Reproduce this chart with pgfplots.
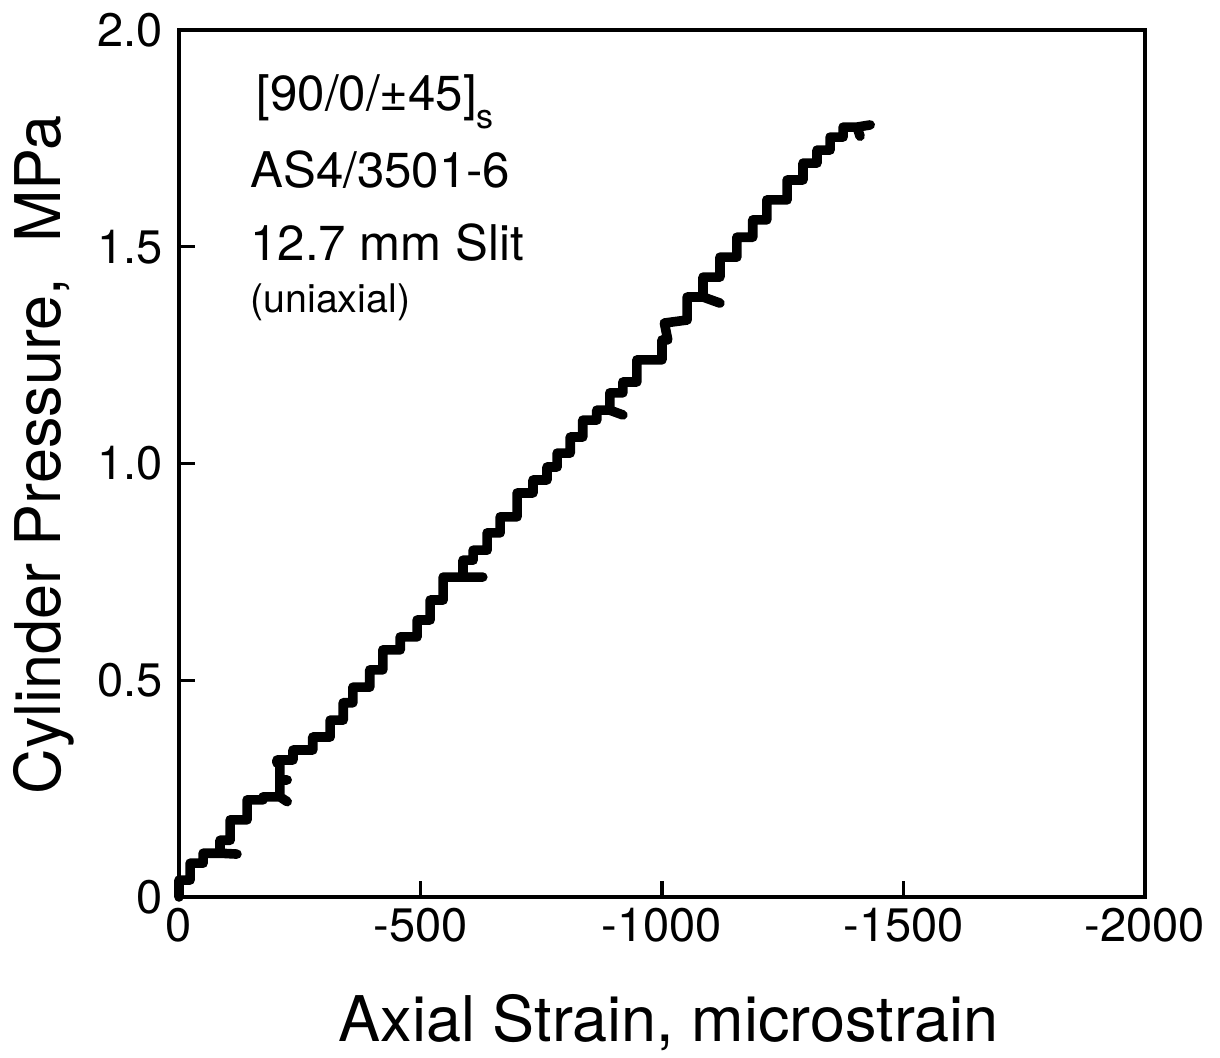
\documentclass[border=0pt]{standalone}
\usepackage{fontspec}
\setmainfont{TeX Gyre Heros}
\usepackage{pgfplots}
\pgfplotsset{compat=1.18}
\begin{document}
\begin{tikzpicture}
\begin{axis}[
  scale only axis,
  width=483pt, height=433.5pt,
  xmin=-2000, xmax=0, x dir=reverse,
  ymin=0, ymax=2,
  axis line style={line width=2pt},
  every tick/.style={line width=1.6pt, black},
  tick align=inside,
  major tick length=8pt,
  xtick pos=left, ytick pos=left,
  xtick={0,-500,-1000,-1500,-2000},
  xticklabels={0,-500,-1000,-1500,-2000},
  ytick={0,0.5,1,1.5,2},
  yticklabels={0,0.5,1.0,1.5,2.0},
  tick label style={font=\fontsize{23.5}{28}\selectfont},
  x tick label style={yshift=-2pt},
  y tick label style={xshift=-4.5pt},
  xlabel={Axial Strain, microstrain},
  ylabel={Cylinder Pressure,\ \ MPa},
  label style={font=\fontsize{31.5}{36}\selectfont},
  x label style={at={(axis description cs:0.507,-0.167)}, anchor=base},
  y label style={at={(axis description cs:-0.123,0.51)}, anchor=base, rotate=0},
  clip=false,
]
\addplot[black, line width=4.8pt, line join=round, line cap=round] coordinates {
(0,0) (0,0.039) (-23,0.039) (-23,0.078) (-50,0.078) (-50,0.101) (-85,0.101)
(-120,0.099) (-85,0.101) (-85,0.131) (-106,0.131) (-106,0.178) (-141,0.178)
(-141,0.224) (-174,0.224) (-174,0.231) (-209,0.231) (-224,0.220) (-209,0.231)
(-209,0.270) (-224,0.270) (-209,0.270) (-209,0.309) (-203,0.309) (-203,0.316)
(-236,0.316) (-236,0.339) (-277,0.339) (-277,0.369) (-313,0.369) (-313,0.408)
(-340,0.408) (-340,0.448) (-360,0.448) (-360,0.484) (-395,0.484) (-395,0.524)
(-422,0.524) (-422,0.570) (-458,0.570) (-458,0.600) (-493,0.600) (-493,0.639)
(-520,0.639) (-520,0.685) (-547,0.685) (-547,0.738) (-588,0.738) (-629,0.738)
(-588,0.738) (-588,0.777) (-609,0.777) (-609,0.800) (-638,0.800) (-638,0.840)
(-665,0.840) (-665,0.877) (-700,0.877) (-700,0.932) (-733,0.932) (-733,0.962)
(-762,0.962) (-762,0.992) (-783,0.992) (-783,1.024) (-810,1.024) (-810,1.061)
(-836,1.061) (-836,1.100) (-865,1.100) (-865,1.123) (-892,1.123) (-919,1.112)
(-892,1.123) (-892,1.163) (-919,1.163) (-919,1.188) (-948,1.188) (-948,1.239)
(-975,1.239) (-1000,1.239) (-1000,1.285) (-1012,1.285) (-1005,1.324)
(-1052,1.331) (-1052,1.384) (-1085,1.384) (-1120,1.370) (-1085,1.384)
(-1085,1.430) (-1120,1.430) (-1120,1.476) (-1155,1.476) (-1155,1.522)
(-1188,1.522) (-1188,1.562) (-1217,1.562) (-1217,1.608) (-1259,1.608)
(-1259,1.654) (-1292,1.654) (-1292,1.693) (-1321,1.693) (-1321,1.723)
(-1348,1.723) (-1348,1.753) (-1375,1.753) (-1375,1.776) (-1404,1.776)
(-1410,1.755) (-1404,1.776) (-1431,1.781)
};
\node[anchor=base west, inner sep=0pt, font=\fontsize{24.6}{29}\selectfont] at (rel axis cs:0.08,0.9077) {[90/0/±45]\raisebox{-9pt}{\fontsize{17}{19}\selectfont s}};
\node[anchor=base west, inner sep=0pt, font=\fontsize{24.6}{29}\selectfont] at (rel axis cs:0.0735,0.8189) {AS4/3501-6};
\node[anchor=base west, inner sep=0pt, font=\fontsize{24.6}{29}\selectfont] at (rel axis cs:0.0735,0.7347) {12.7 mm Slit};
\node[anchor=base west, inner sep=0pt, font=\fontsize{19.7}{24}\selectfont] at (rel axis cs:0.0735,0.6736) {(uniaxial)};
\end{axis}
\pgfresetboundingbox
\path ([shift={(-89.5pt,-80.5pt)}]current axis.south west) rectangle ([shift={(37.5pt,15pt)}]current axis.north east);
\end{tikzpicture}
\end{document}
